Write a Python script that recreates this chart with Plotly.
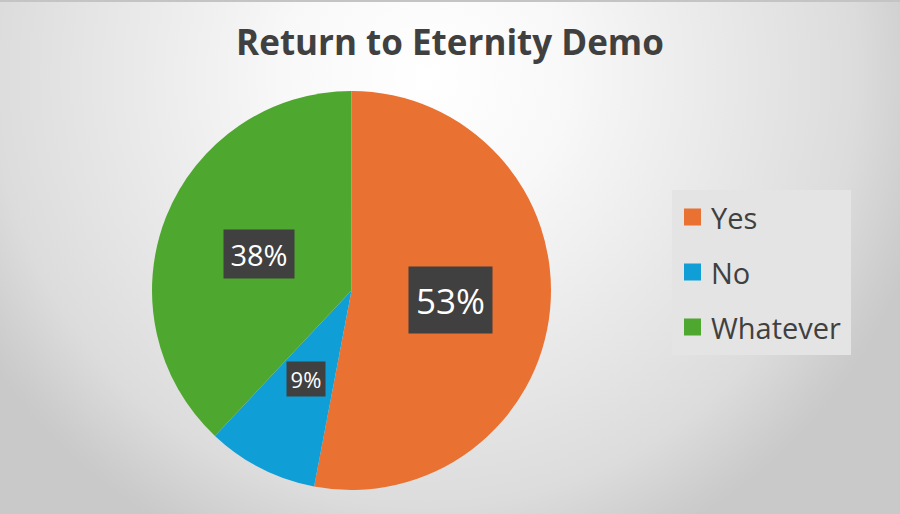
import base64
import math
import plotly.graph_objects as go

# ---- data ----
labels = ["Yes", "No", "Whatever"]
values = [53, 9, 38]
title_text = "Return to Eternity Demo"

# ---- styles ----
colors = ["#E97132", "#0F9ED5", "#4EA72E"]
label_sizes = [35, 22, 29]
label_boxes = [(83, 66), (38, 34), (70, 48)]
FONT = "Open Sans"
W, H = 900, 514

# background radial gradient as svg
svg = f'''<svg xmlns="http://www.w3.org/2000/svg" width="{W}" height="{H}">
<defs><radialGradient id="g" gradientUnits="userSpaceOnUse" cx="425" cy="75" r="520">
<stop offset="0" stop-color="#ffffff"/>
<stop offset="0.28" stop-color="#f8f8f8"/>
<stop offset="0.35" stop-color="#f4f4f4"/>
<stop offset="0.83" stop-color="#dcdcdc"/>
<stop offset="0.96" stop-color="#cdcdcd"/>
<stop offset="1" stop-color="#c9c9c9"/>
</radialGradient></defs>
<rect width="{W}" height="{H}" fill="url(#g)"/>
<rect x="0" y="0" width="{W}" height="2" fill="#c4c4c4"/>
</svg>'''
bg_src = "data:image/svg+xml;base64," + base64.b64encode(svg.encode()).decode()

# pie geometry (pixels)
px_l, px_r, px_t, px_b = 152, 551, 91, 490
R = (px_r - px_l) / 2
cx_px = (px_l + px_r) / 2
cy_px = (px_t + px_b) / 2

fig = go.Figure()
fig.add_trace(go.Pie(
    labels=labels, values=values, sort=False, direction="clockwise", rotation=0,
    marker=dict(colors=colors, line=dict(width=0)),
    textinfo="none", showlegend=False, hole=0,
    domain=dict(x=[px_l / W, px_r / W], y=[1 - px_b / H, 1 - px_t / H]),
))

annotations = []
total = sum(values)
cum = 0
for lab, v, fs, (bw, bh) in zip(labels, values, label_sizes, label_boxes):
    mid = (cum + v / 2) / total * 2 * math.pi
    cum += v
    x_px = cx_px + 0.5 * R * math.sin(mid)
    y_px = cy_px - 0.5 * R * math.cos(mid)
    annotations.append(dict(
        x=x_px / W, y=1 - y_px / H, xref="paper", yref="paper",
        text=f"{round(v / total * 100)}%", showarrow=False,
        font=dict(family=FONT, size=fs, color="white"),
        bgcolor="#404040", borderpad=0, width=bw, height=bh,
        xanchor="center", yanchor="middle", valign="middle",
    ))

# custom legend
shapes = [dict(type="rect", xref="paper", yref="paper",
               x0=672 / W, x1=851 / W, y0=1 - 355 / H, y1=1 - 190 / H,
               fillcolor="#e4e4e4", line=dict(width=0), layer="below")]
leg_y = [217, 272, 327]
for lab, col, ly in zip(labels, colors, leg_y):
    shapes.append(dict(type="rect", xref="paper", yref="paper",
                       x0=684 / W, x1=701 / W, y0=1 - (ly + 8.5) / H, y1=1 - (ly - 8.5) / H,
                       fillcolor=col, line=dict(width=0)))
    annotations.append(dict(x=709 / W, y=1 - ly / H, xref="paper", yref="paper",
                            text=lab, showarrow=False, xanchor="left", yanchor="middle",
                            font=dict(family=FONT, size=29, color="#404040")))

fig.update_layout(
    width=W, height=H, margin=dict(l=0, r=0, t=0, b=0),
    paper_bgcolor="#d0d0d0",
    title=dict(text=title_text, x=0.5, xanchor="center", y=1 - 43 / H, yanchor="middle",
               yref="paper", xref="paper",
               font=dict(family=FONT, size=35, color="#404040", weight=700)),
    images=[dict(source=bg_src, xref="paper", yref="paper", x=0, y=1, sizex=1, sizey=1,
                 xanchor="left", yanchor="top", sizing="stretch", layer="below")],
    shapes=shapes, annotations=annotations,
)

fig.write_html("out.html", config={"displayModeBar": False},
               post_script="document.body.style.margin='0';document.body.style.overflow='hidden';")
